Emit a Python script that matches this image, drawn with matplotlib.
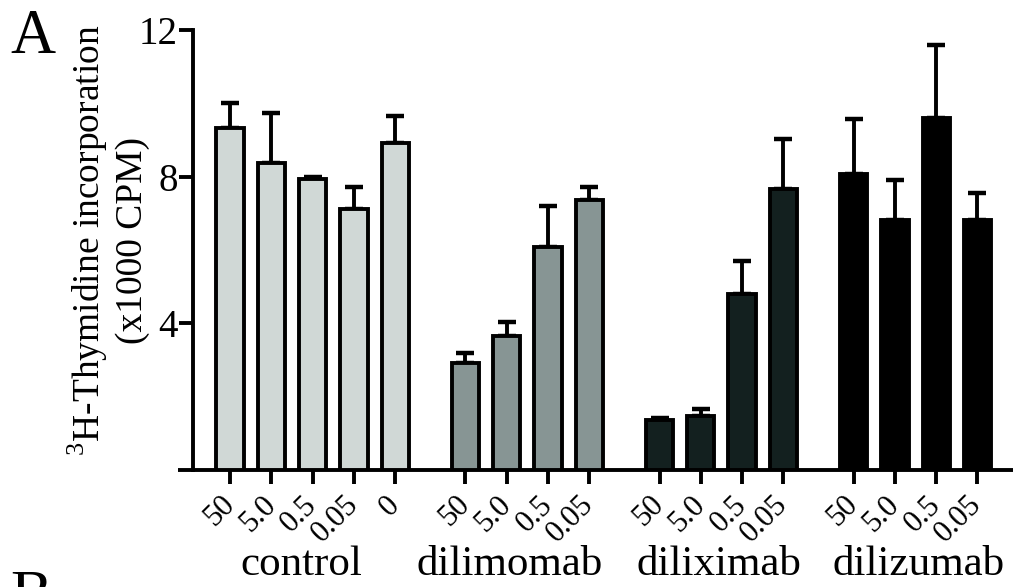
import numpy as np
import matplotlib.pyplot as plt
import matplotlib.transforms as mtransforms

plt.rcParams['font.family'] = ['Liberation Serif', 'DejaVu Serif']
plt.rcParams['mathtext.fontset'] = 'custom'
plt.rcParams['mathtext.rm'] = 'Liberation Serif'

# ---- data ----
groups = ["control", "dilimomab", "diliximab", "dilizumab"]
doses = [
    ["50", "5.0", "0.5", "0.05", "0"],
    ["50", "5.0", "0.5", "0.05"],
    ["50", "5.0", "0.5", "0.05"],
    ["50", "5.0", "0.5", "0.05"],
]
means = [
    [9.32, 8.37, 7.93, 7.11, 8.91],
    [2.92, 3.65, 6.08, 7.36],
    [1.36, 1.47, 4.80, 7.66],
    [8.07, 6.83, 9.61, 6.83],
]
errs = [
    [0.68, 1.38, 0.06, 0.60, 0.74],
    [0.28, 0.38, 1.11, 0.35],
    [0.06, 0.19, 0.89, 1.37],
    [1.49, 1.09, 1.97, 0.73],
]
colors = ["#d0d8d6", "#879594", "#13201f", "#000000"]
# group label shift from group centre (in bar units)
label_shift = [-0.27, -0.43, -0.05, 0.07]

fig = plt.figure(figsize=(10.13, 5.87), dpi=100)
W, H = 1013, 587
ax = fig.add_axes([178 / W, 1 - 470 / H, (W - 178) / W, 440 / H])

gap = 1.7
lw = 2.8
start = 0.0
all_pos, all_lab = [], []
for i, g in enumerate(groups):
    n = len(means[i])
    pos = start + np.arange(n)
    ax.bar(pos, means[i], width=0.66, color=colors[i], edgecolor="black",
           linewidth=lw, zorder=3)
    yerr = np.vstack([np.zeros(n), errs[i]])
    ax.errorbar(pos, means[i], yerr=yerr, fmt="none", ecolor="black",
                elinewidth=lw, capsize=6.5, capthick=lw + 0.4, zorder=2)
    ax.text(pos.mean() + label_shift[i], -0.239, g,
            transform=ax.get_xaxis_transform(),
            ha="center", va="baseline", fontsize=31)
    all_pos += list(pos)
    all_lab += doses[i]
    start = pos[-1] + gap

ax.set_xlim(-1.26, 18.96)
ax.set_ylim(0, 12)
ax.set_xticks(all_pos)
ax.set_xticklabels(all_lab, rotation=45, ha="right", va="center",
                   rotation_mode="anchor", fontsize=22)
shift = mtransforms.ScaledTranslation(4 / 100, 0, fig.dpi_scale_trans)
for lab in ax.get_xticklabels():
    lab.set_transform(lab.get_transform() + shift)
ax.set_yticks([4, 8, 12])
ax.tick_params(axis="y", labelsize=28, length=10, width=lw, direction="out", pad=1)
ax.tick_params(axis="x", length=10, width=lw, direction="out", pad=12)

for s in ["top", "right"]:
    ax.spines[s].set_visible(False)
ax.spines["left"].set_position(("data", -0.9))
ax.spines["left"].set_bounds(0, 12)
ax.spines["left"].set_linewidth(lw)
ax.spines["bottom"].set_linewidth(lw)
ax.spines["bottom"].set_capstyle("butt")

fig.text(108 / W, 1 - 240 / H, "$^{3}$H-Thymidine incorporation\n(x1000 CPM)",
         rotation=90, ha="center", va="center", multialignment="center",
         fontsize=27, linespacing=1.2)
fig.text(10 / W, 1 - 53 / H, "A", fontsize=45, ha="left", va="baseline")
fig.text(10 / W, 1 - 614 / H, "B", fontsize=45, ha="left", va="baseline")

fig.savefig("out.png", dpi=100)
